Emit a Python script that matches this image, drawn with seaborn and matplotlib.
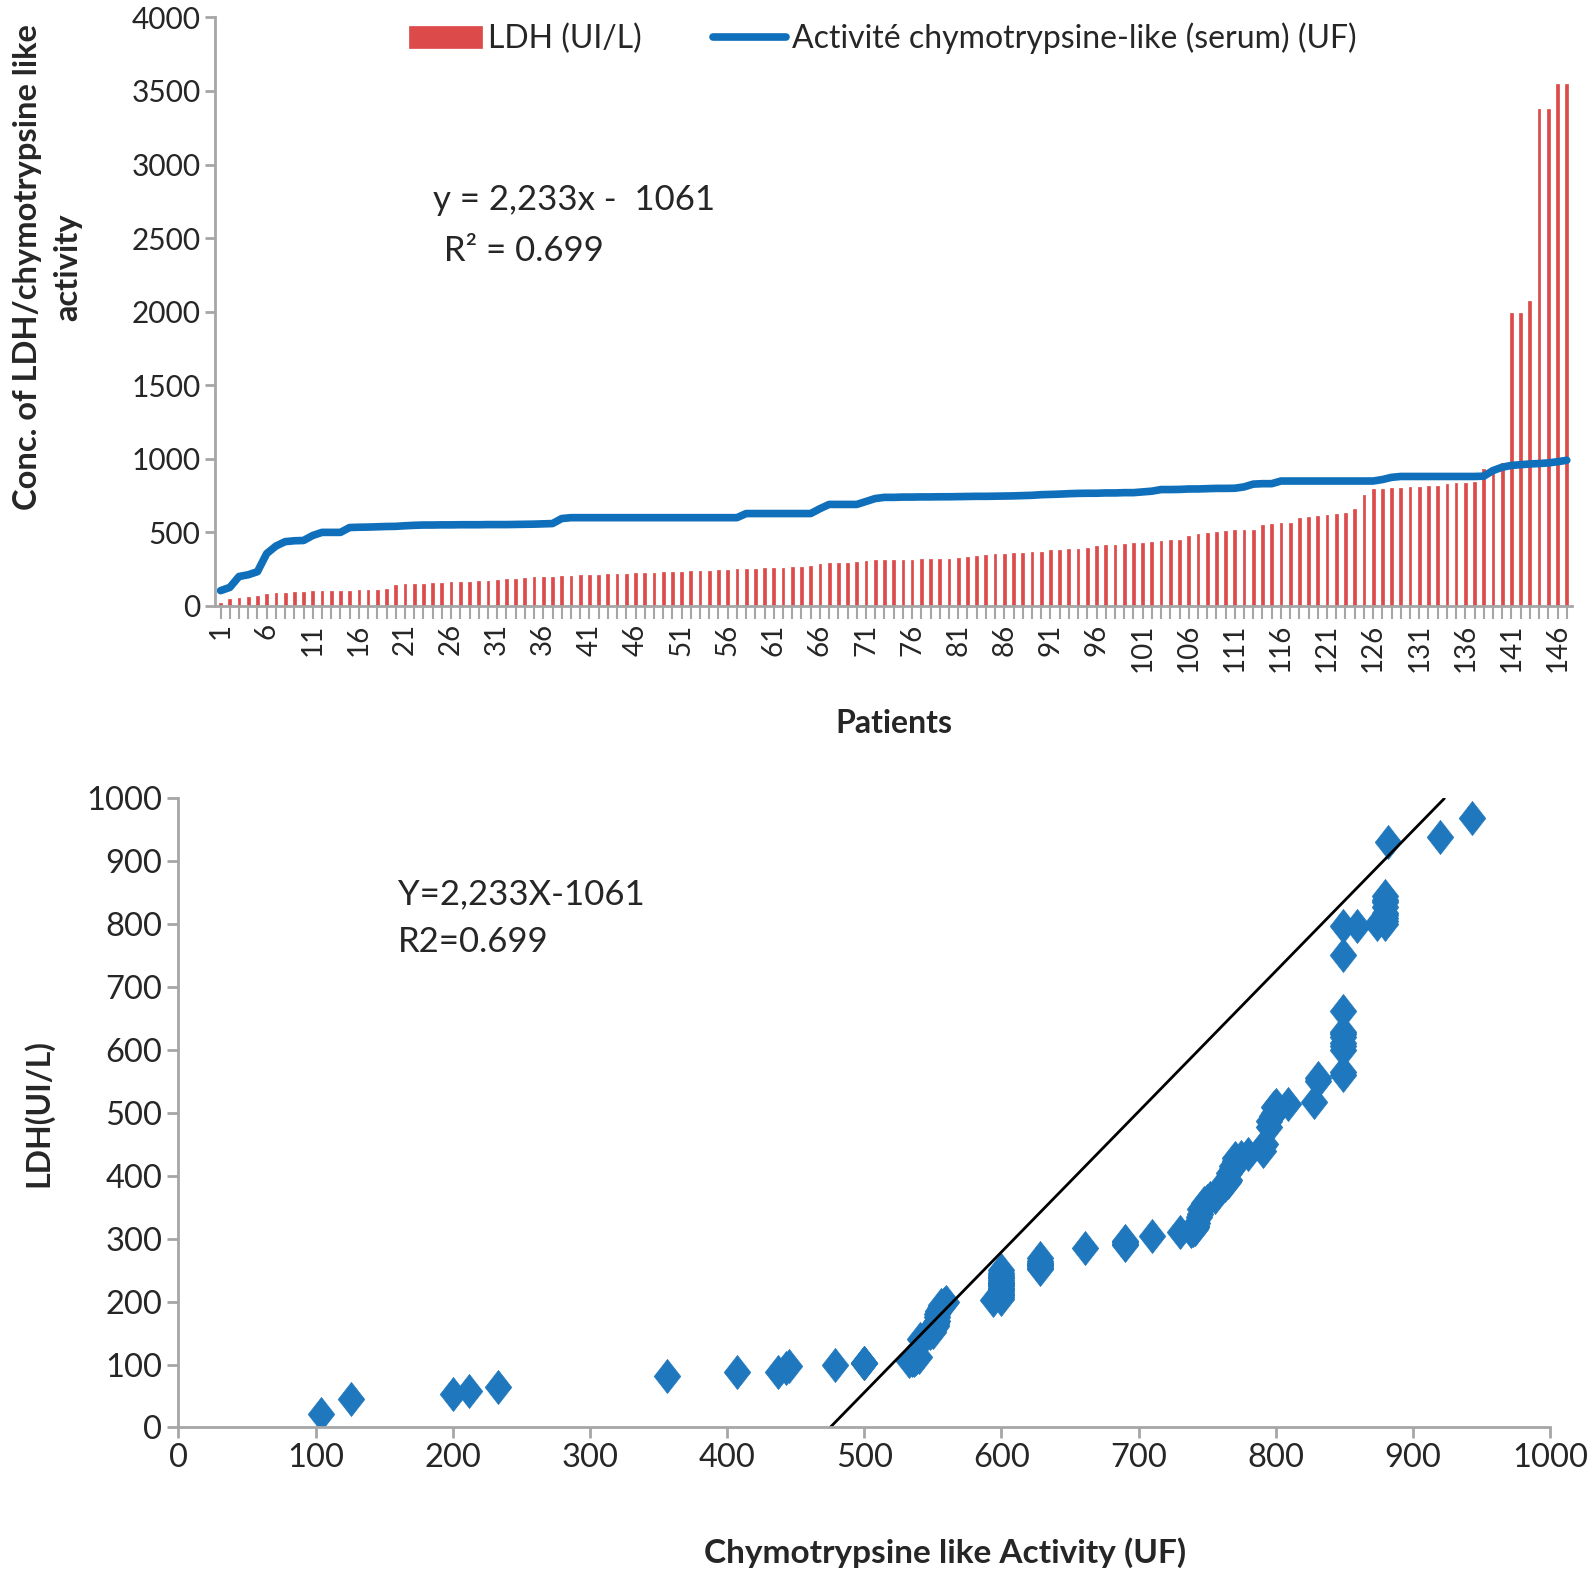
import numpy as np
import pandas as pd
import seaborn as sns
import matplotlib.pyplot as plt
from matplotlib.path import Path

# LDH (UI/L) per patient, sorted
ldh = [22, 45, 53, 58, 65, 82, 88, 88, 95, 97,
       100, 103, 103, 103, 105, 107, 108, 110, 112, 140,
       147, 150, 152, 155, 158, 160, 162, 165, 167, 170,
       175, 180, 185, 190, 194, 197, 200, 202,
       205, 207, 210, 212, 215, 218, 220, 222, 225, 227,
       228, 230, 232, 235, 237, 240, 242, 245, 250,
       252, 254, 256, 258, 260, 262, 265, 270,
       285, 290, 292, 295, 297, 305, 310,
       312, 314, 314, 315, 316, 317, 318, 320, 325, 334,
       340, 347, 350, 352, 357, 360, 365, 367, 377, 380,
       385, 390, 394, 405, 411, 415, 424, 428, 430, 434,
       440, 447, 450, 477, 487, 495, 500, 510, 513, 515,
       517, 551, 556, 561, 565, 600, 607, 612, 620, 625,
       629, 662, 751, 798, 798, 800, 800, 805, 810, 815,
       818, 828, 835, 838, 845, 931, 939, 969, 1990, 1990,
       2070, 3380, 3380, 3550, 3550]

# chymotrypsine-like activity (UF) per patient, sorted
chymo = [104, 126, 200, 212, 233, 356, 407, 437, 443, 445,
         479, 500, 500, 500, 533, 535, 536, 538, 540, 541,
         545, 548, 550, 550, 551, 551, 552, 552, 552, 553,
         553, 553, 554, 555, 556, 558, 560, 594,
         600, 600, 600, 600, 600, 600, 600, 600, 600, 600,
         600, 600, 600, 600, 600, 600, 600, 600, 600,
         628, 628, 628, 628, 628, 628, 628, 628,
         661, 690, 690, 690, 690, 710, 730,
         738, 738, 740, 740, 741, 741, 742, 742, 743, 744,
         745, 745, 746, 747, 748, 750, 752, 756, 758, 760,
         763, 765, 766, 766, 768, 768, 770, 770, 775, 780,
         791, 791, 792, 795, 795, 797, 799, 799, 800, 809,
         828, 831, 831, 849, 849, 849, 849, 849, 849, 849,
         849, 849, 849, 849, 859, 874, 880, 880, 880, 880,
         880, 880, 880, 880, 880, 882, 920, 943, 955, 960,
         965, 968, 972, 980, 990]

patients = list(range(1, len(ldh) + 1))
slope, intercept = 2.233, -1061

red = "#DC4A4A"
blue = "#0F6FBA"
dot = "#1F78BE"
grey = "#A6A6A6"

sns.set_style("ticks")
plt.rcParams['font.family'] = ['Lato', 'DejaVu Sans']

df = pd.DataFrame({'Patient': [str(p) for p in patients], 'LDH': ldh, 'Chymo': chymo})

fig = plt.figure(figsize=(15.93, 15.78), dpi=100)
ax1 = fig.add_axes([0.135, 0.616, 0.852, 0.373])
ax2 = fig.add_axes([0.112, 0.0954, 0.861, 0.3986])

# top: bars + line
sns.barplot(data=df, x='Patient', y='LDH', color=red, width=0.3, saturation=1,
            edgecolor=red, linewidth=0.5, ax=ax1, label='LDH (UI/L)')
sns.lineplot(x=np.arange(len(df)), y=df['Chymo'], color=blue, lw=5.5, ax=ax1,
             solid_capstyle='round', label='Activité chymotrypsine-like (serum) (UF)')

ax1.set_xlim(-0.6, len(df) - 0.4)
ax1.set_ylim(0, 4000)
ax1.set_yticks(range(0, 4001, 500))
ax1.set_xticks(range(len(df)))
ax1.set_xticklabels([str(p) if (p - 1) % 5 == 0 else '' for p in patients],
                    rotation=90, fontsize=20)
ax1.tick_params(axis='y', labelsize=21.5, color=grey, width=2, length=7)
ax1.tick_params(axis='x', color=grey, width=1.5, length=9)
sns.despine(ax=ax1)
for s in ['left', 'bottom']:
    ax1.spines[s].set_color(grey)
    ax1.spines[s].set_linewidth(2)
ax1.set_xlabel('Patients', fontweight='bold', fontsize=23, labelpad=27)
ax1.set_ylabel('Conc. of LDH/chymotrypsine like\nactivity', fontweight='bold', fontsize=23.5,
               linespacing=1.45)
ax1.yaxis.set_label_coords(-0.098, 0.575)
h, l = ax1.get_legend_handles_labels()
ax1.legend([h[1], h[0]], [l[1], l[0]], loc='upper center', bbox_to_anchor=(0.492, 1.04),
           ncol=2, frameon=False, fontsize=23, handlelength=2.3, handletextpad=0.2,
           columnspacing=2.2)
ax1.text(23.0, 2690, 'y = 2,233x -  1061', fontsize=25)
ax1.text(23.3, 2345, ' R² = 0.699', fontsize=25)

# bottom: scatter with regression line
diamond = Path([(0, 1), (0.78, 0), (0, -1), (-0.78, 0), (0, 1)])
sc = df[df['LDH'] <= 1000]
sns.scatterplot(x=sc['Chymo'], y=sc['LDH'], marker=diamond, s=600, color=dot,
                edgecolor=dot, linewidth=0.5, ax=ax2)
x_line = np.array([-intercept / slope, (1000 - intercept) / slope])
sns.lineplot(x=x_line, y=slope * x_line + intercept, color='black', lw=2, ax=ax2)

ax2.set_xlim(0, 1000)
ax2.set_ylim(0, 1000)
ax2.set_xticks(range(0, 1001, 100))
ax2.set_yticks(range(0, 1001, 100))
ax2.tick_params(labelsize=23.5, color=grey, width=2, length=8)
sns.despine(ax=ax2)
for s in ['left', 'bottom']:
    ax2.spines[s].set_color(grey)
    ax2.spines[s].set_linewidth(2)
ax2.set_xlabel('Chymotrypsine like Activity (UF)', fontweight='bold', fontsize=24)
ax2.xaxis.set_label_coords(0.559, -0.175)
ax2.set_ylabel('LDH(UI/L)', fontweight='bold', fontsize=23, labelpad=24)
ax2.text(160, 832, 'Y=2,233X-1061', fontsize=25)
ax2.text(160, 756, 'R2=0.699', fontsize=25)

fig.savefig('out.png', dpi=100)
